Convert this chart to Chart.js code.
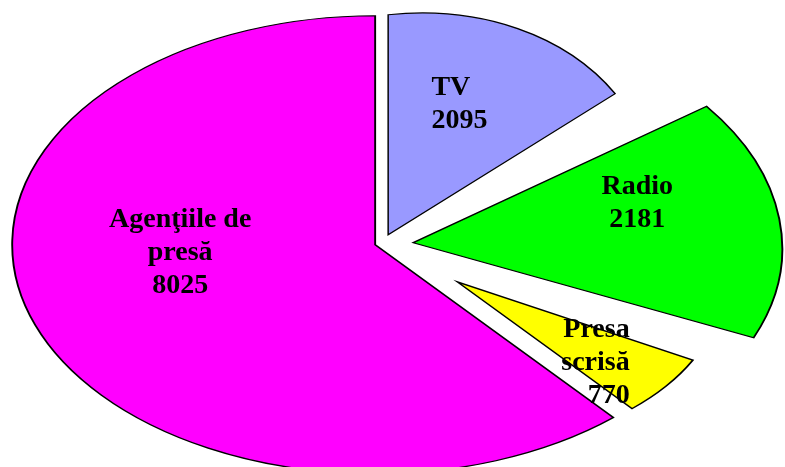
<!DOCTYPE html>
<html>
<head>
<meta charset="utf-8">
<script src="https://cdn.jsdelivr.net/npm/chart.js@4/dist/chart.umd.min.js"></script>
<style>
  html, body { margin: 0; padding: 0; background: #fff; }
  #pie { display: block; }
</style>
</head>
<body>
<canvas id="pie" width="785" height="467"></canvas>
<script>
// data
const categories = ['TV', 'Radio', 'Presa scrisă', 'Agenţiile de presă']
const values = [2095, 2181, 770, 8025]
const labelLines = [['TV'], ['Radio'], ['Presa', 'scrisă'], ['Agenţiile de', 'presă']]

const colors = ['#9999ff', '#00ff00', '#ffff00', '#ff00ff']

// look of the tilted, exploded pie
const look = {
  stretch: 1.585,               // horizontal squash of the circle into an ellipse
  explode: [10, 20.6, 61.8, 3.6],
  radius: [220, 232, 168, 229],
  // per-slice fake perspective, canvas transform a, b, c, d around the slice tip
  skew: [[0.77, -0.08, 0, 1], [1, -0.04, 0.14, 1], [1, 0, 0, 1], [1, 0, 0, 1]],
  font: 'bold 28px "Liberation Serif", "Times New Roman", serif',
  lineHeight: 33,
  labelAlign: ['left', 'center', 'right', 'center'],
  labelShift: [[-21.5, -27.5], [41, -27], [68, 29], [-25, -32]]
}

const centerX = chart => (chart.chartArea.left + chart.chartArea.right) / 2

// circle space of the arc -> screen
const project = (chart, arc, i, px, py) => {
  const cx = centerX(chart)
  const ax = cx + (arc.x - cx) * look.stretch
  const dx = (px - arc.x) * look.stretch
  const dy = py - arc.y
  const [a, b, c, d] = look.skew[i]
  return { x: ax + a * dx + c * dy, y: arc.y + b * dx + d * dy }
}

const tiltPlugin = {
  id: 'tilt',
  afterUpdate (chart) {
    const meta = chart.getDatasetMeta(0)
    meta.data.forEach((arc, i) => {
      const half = (arc.startAngle + arc.endAngle) / 2
      arc.x += Math.cos(half) * look.explode[i]
      arc.y += Math.sin(half) * look.explode[i]
      arc.outerRadius = look.radius[i]
      const baseDraw = Object.getPrototypeOf(arc).draw
      arc.draw = (ctx, area) => {
        const cx = centerX(chart)
        const [a, b, c, d] = look.skew[i]
        ctx.save()
        ctx.translate(cx + (arc.x - cx) * look.stretch, arc.y)
        ctx.transform(a, b, c, d, 0, 0)
        ctx.scale(look.stretch, 1)
        ctx.translate(-arc.x, -arc.y)
        baseDraw.call(arc, ctx, area)
        ctx.restore()
      }
    })
  },
  afterDraw (chart) {
    const { ctx } = chart
    const meta = chart.getDatasetMeta(0)
    ctx.save()
    ctx.font = look.font
    ctx.fillStyle = '#000'
    ctx.textBaseline = 'middle'
    meta.data.forEach((arc, i) => {
      const p = arc.tooltipPosition()
      const s = project(chart, arc, i, p.x, p.y)
      const x = s.x + look.labelShift[i][0]
      const y = s.y + look.labelShift[i][1]
      const lines = [...labelLines[i], String(values[i])]
      ctx.textAlign = look.labelAlign[i]
      lines.forEach((line, k) => {
        ctx.fillText(line, x, y + (k - (lines.length - 1) / 2) * look.lineHeight)
      })
    })
    ctx.restore()
  }
}

document.addEventListener('DOMContentLoaded', () => {
  const canvas = document.getElementById('pie')
  new Chart(canvas, {
    type: 'pie',
    data: {
      labels: categories,
      datasets: [{
        data: values,
        backgroundColor: colors,
        borderColor: '#000',
        borderWidth: 1.2,
        borderJoinStyle: 'miter'
      }]
    },
    options: {
      responsive: false,
      animation: false,
      events: [],
      radius: 226,
      layout: { padding: { left: 0, right: 24, top: 20, bottom: 0 } },
      plugins: {
        legend: { display: false },
        tooltip: { enabled: false }
      }
    },
    plugins: [tiltPlugin]
  })
})
</script>
</body>
</html>
